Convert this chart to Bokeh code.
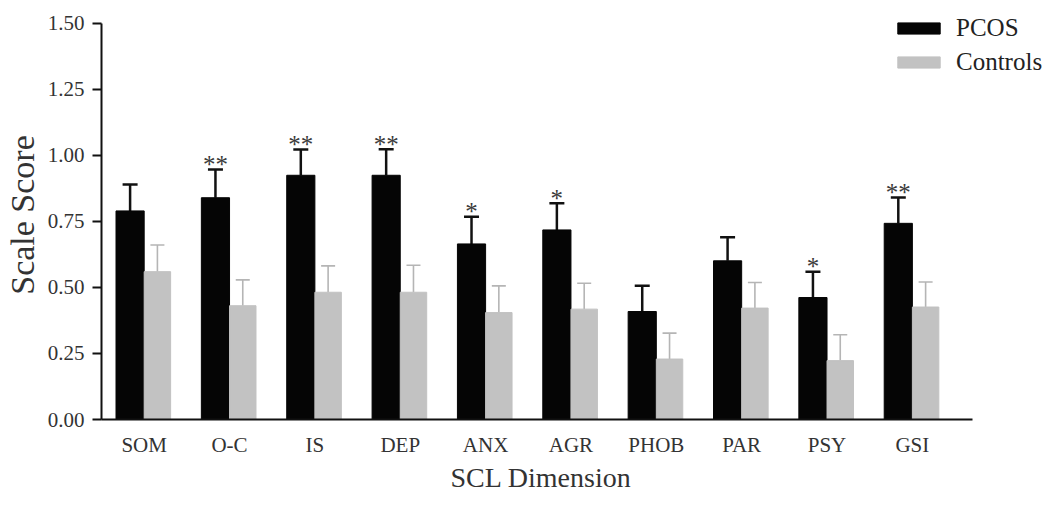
from bokeh.plotting import figure
from bokeh.models import (ColumnDataSource, Range1d, FixedTicker, NumeralTickFormatter,
                          Whisker, TeeHead, Legend, LegendItem, Title)
from bokeh.core.properties import value
from bokeh.embed import file_html
from bokeh.resources import INLINE

categories = ["SOM", "O-C", "IS", "DEP", "ANX", "AGR", "PHOB", "PAR", "PSY", "GSI"]
pcos = [0.79, 0.84, 0.925, 0.925, 0.665, 0.718, 0.409, 0.601, 0.462, 0.743]
pcos_err = [0.10, 0.107, 0.098, 0.099, 0.103, 0.101, 0.098, 0.089, 0.098, 0.098]
controls = [0.56, 0.431, 0.482, 0.482, 0.405, 0.418, 0.229, 0.422, 0.223, 0.426]
controls_err = [0.101, 0.098, 0.10, 0.102, 0.101, 0.098, 0.098, 0.097, 0.098, 0.095]
stars = ["", "**", "**", "**", "*", "*", "", "", "*", "**"]
y_ticks = [0.0, 0.25, 0.5, 0.75, 1.0, 1.25, 1.5]

SERIF = "Liberation Serif"
BLACK_W, GRAY_W = 0.33, 0.31
centers = [i + 0.5 for i in range(len(categories))]

src_p = ColumnDataSource(dict(
    x=[c - BLACK_W / 2 for c in centers], top=pcos,
    up=[v + e for v, e in zip(pcos, pcos_err)], star=stars))
src_c = ColumnDataSource(dict(
    x=[c + GRAY_W / 2 for c in centers], top=controls,
    up=[v + e for v, e in zip(controls, controls_err)]))

p = figure(width=1047, height=492, output_backend="svg", toolbar_location=None,
           x_range=Range1d(0, 11.083), y_range=Range1d(0, 1.5491),
           min_border_left=100, min_border_right=0, min_border_top=10, min_border_bottom=72)
p.outline_line_color = None
p.grid.visible = False
p.background_fill_color = "white"

rb = p.vbar(x="x", top="top", width=BLACK_W, source=src_p,
            fill_color="#050505", line_color="#050505")
rg = p.vbar(x="x", top="top", width=GRAY_W, source=src_c,
            fill_color="#c2c2c2", line_color="#c2c2c2")

wb = Whisker(source=src_p, base="x", lower="top", upper="up", dimension="height",
             line_color="#111111", line_width=2.5, lower_head=None,
             upper_head=TeeHead(size=15, line_color="#111111", line_width=2.5))
wg = Whisker(source=src_c, base="x", lower="top", upper="up", dimension="height",
             line_color="#b5b5b5", line_width=1.6, lower_head=None,
             upper_head=TeeHead(size=14, line_color="#b5b5b5", line_width=1.6))
p.add_layout(wg)
p.add_layout(wb)

p.text(x="x", y="up", text="star", source=src_p, text_align="center",
       text_baseline="middle", y_offset=-5, text_font=value(SERIF),
       text_font_size="25px", text_color="#3a3a3a")

# axes
p.xaxis.ticker = FixedTicker(ticks=centers)
p.xaxis.major_label_overrides = {c: lab for c, lab in zip(centers, categories)}
p.xaxis.bounds = (-0.105, 10.206)
p.xaxis.major_tick_line_color = None
p.xaxis.minor_tick_line_color = None
p.xaxis.major_tick_out = 0
p.xaxis.major_label_standoff = 13
p.xaxis.axis_line_width = 2
p.xaxis.axis_line_color = "#111111"

p.yaxis.ticker = FixedTicker(ticks=y_ticks)
p.yaxis.bounds = (0, 1.5)
p.yaxis.formatter = NumeralTickFormatter(format="0.00")
p.yaxis.minor_tick_line_color = None
p.yaxis.major_tick_out = 9
p.yaxis.major_tick_in = 0
p.yaxis.major_tick_line_width = 2
p.yaxis.major_tick_line_color = "#111111"
p.yaxis.major_label_standoff = 8
p.yaxis.axis_line_width = 2
p.yaxis.axis_line_color = "#111111"
p.yaxis.axis_label = "Scale Score"
p.yaxis.axis_label_standoff = 4

for ax in (p.xaxis, p.yaxis):
    ax.major_label_text_font = SERIF
    ax.major_label_text_font_size = "21px"
    ax.major_label_text_color = "#333333"
p.yaxis.axis_label_text_font = SERIF
p.yaxis.axis_label_text_font_style = "normal"
p.yaxis.axis_label_text_color = "#333333"
p.yaxis.axis_label_text_font_size = "34px"

xtitle = Title(text="SCL Dimension", align="left", offset=349, standoff=0,
               text_font=SERIF, text_font_size="28px", text_font_style="normal",
               text_color="#333333")
p.add_layout(xtitle, "below")

legend = Legend(items=[LegendItem(label="PCOS", renderers=[rb]),
                       LegendItem(label="Controls", renderers=[rg])],
                location=(791, 343), padding=0, margin=0, spacing=6,
                glyph_width=53, glyph_height=14, label_standoff=11,
                label_text_font=SERIF, label_text_font_size="25px",
                label_text_color="#222222",
                background_fill_alpha=0, border_line_color=None)
p.add_layout(legend)

open("out.html", "w").write(file_html(p, INLINE))
